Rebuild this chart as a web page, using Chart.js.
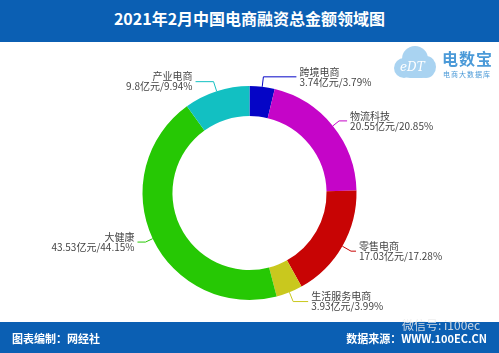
<!DOCTYPE html>
<html>
<head>
<meta charset="utf-8">
<script src="https://cdn.jsdelivr.net/npm/chart.js@4"></script>
<style>
  html, body { margin: 0; padding: 0; background: #fff; }
  body { width: 499px; height: 353px; position: relative; overflow: hidden; font-family: "Noto Sans CJK SC", "Noto Sans", sans-serif; }
  #chart { position: absolute; left: 0; top: 0; }
  .bar { position: absolute; left: 0; width: 499px; background: #0b5fb3; color: #fff; }
  #head { top: 0; height: 42px; }
  #head h1 { margin: 0; font-size: 16px; font-weight: bold; line-height: 36px; text-align: center; }
  #foot { top: 322px; height: 31px; font-size: 11px; font-weight: bold; }
  #foot .l { position: absolute; left: 12px; top: 8px; }
  #foot .r { position: absolute; right: 12px; top: 8px; }
  #wm { position: absolute; left: 402px; top: 316px; font-size: 12px; color: rgba(235,235,235,0.85); }
  #logo { position: absolute; left: 392px; top: 42px; width: 107px; height: 42px; white-space: nowrap; }
  .cl { position: absolute; background: #a9d3f1; border-radius: 50%; }
  #logo .edt { position: absolute; left: 8px; top: 18px; font-size: 12px; font-style: italic; color: #fff; font-family: "DejaVu Serif", serif; }
  #logo .t1 { position: absolute; left: 50px; top: 4px; font-size: 16px; font-weight: bold; color: #4b9ad8; letter-spacing: 1px; }
  #logo .t2 { position: absolute; left: 51px; top: 27px; font-size: 7px; color: #4b9ad8; letter-spacing: 1px; }
</style>
</head>
<body>
<canvas id="chart" width="499" height="353"></canvas>
<div id="head" class="bar"><h1>2021年2月中国电商融资总金额领域图</h1></div>
<div id="logo">
  <div class="cl" style="left:2px;top:16px;width:20px;height:20px"></div>
  <div class="cl" style="left:10px;top:4px;width:26px;height:26px"></div>
  <div class="cl" style="left:24px;top:14px;width:20px;height:22px"></div>
  <div class="cl" style="left:10px;top:20px;width:28px;height:16px;border-radius:8px"></div>
  <span class="edt">eDT</span>
  <span class="t1">电数宝</span>
  <span class="t2">电商大数据库</span>
</div>
<div id="foot" class="bar"><span class="l">图表编制：网经社</span><span class="r">数据来源：WWW.100EC.CN</span></div>
<div id="wm">微信号: i100ec</div>
<script>
const categories = ['跨境电商', '物流科技', '零售电商', '生活服务电商', '大健康', '产业电商'];
const amounts = ['3.74', '20.55', '17.03', '3.93', '43.53', '9.8'];
const shares = [3.79, 20.85, 17.28, 3.99, 44.15, 9.94];
const colors = ['#0505c6', '#c505c8', '#c80404', '#c9c81e', '#26c804', '#12c0c2'];

// radial and horizontal lengths of each leader line
const leaderRadial = [10, 8, 10, 10, 8, 10];
const leaderFlat = [33, 8, 5, 15, 8, 18];

const calloutPlugin = {
  id: 'callouts',
  afterDraw(chart) {
    const ctx = chart.ctx;
    const arcs = chart.getDatasetMeta(0).data;
    ctx.save();
    ctx.font = '10px "Noto Sans CJK SC", sans-serif';
    ctx.textBaseline = 'middle';
    arcs.forEach((arc, i) => {
      const p = arc.getProps(['x', 'y', 'startAngle', 'endAngle', 'outerRadius'], true);
      const mid = (p.startAngle + p.endAngle) / 2;
      const cos = Math.cos(mid), sin = Math.sin(mid);
      const x0 = p.x + cos * p.outerRadius, y0 = p.y + sin * p.outerRadius;
      const x1 = p.x + cos * (p.outerRadius + leaderRadial[i]);
      const y1 = p.y + sin * (p.outerRadius + leaderRadial[i]);
      const right = cos >= 0;
      const x2 = x1 + (right ? leaderFlat[i] : -leaderFlat[i]);
      ctx.strokeStyle = colors[i];
      ctx.lineWidth = 1;
      ctx.beginPath();
      ctx.moveTo(x0, y0);
      ctx.lineTo(x1, y1);
      ctx.lineTo(x2, y1);
      ctx.stroke();
      ctx.fillStyle = '#444';
      ctx.textAlign = right ? 'left' : 'right';
      const tx = x2 + (right ? 3 : -3);
      ctx.fillText(categories[i], tx, y1 - 5);
      ctx.fillText(amounts[i] + '亿元/' + shares[i] + '%', tx, y1 + 5);
    });
    ctx.restore();
  }
};

new Chart(document.getElementById('chart'), {
  type: 'doughnut',
  data: {
    labels: categories,
    datasets: [{
      data: shares,
      backgroundColor: colors,
      borderWidth: 0,
      hoverOffset: 0
    }]
  },
  options: {
    responsive: false,
    animation: false,
    cutout: '72%',
    layout: { padding: { top: 86, bottom: 53, left: 0, right: 0 } },
    plugins: {
      legend: { display: false },
      tooltip: { enabled: false }
    }
  },
  plugins: [calloutPlugin]
});
</script>
</body>
</html>
